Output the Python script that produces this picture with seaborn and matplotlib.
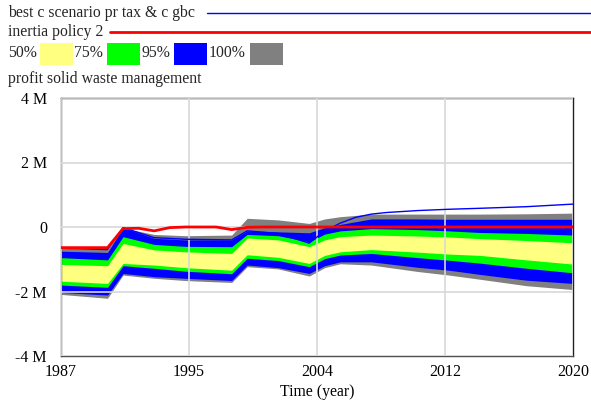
import numpy as np
import matplotlib.pyplot as plt
import pandas as pd
import seaborn as sns
from matplotlib.lines import Line2D
from matplotlib.patches import Rectangle

# Confidence band bounds (millions)
years = [1987, 1990, 1991, 1993, 1995, 1998, 1999, 2001, 2003, 2004, 2005, 2007, 2010, 2012, 2014, 2017, 2020]
p100_hi = [-0.66, -0.70, -0.03, -0.23, -0.27, -0.25, 0.27, 0.22, 0.11, 0.25, 0.32, 0.40, 0.40, 0.40, 0.40, 0.41, 0.43]
p95_hi = [-0.75, -0.79, -0.02, -0.35, -0.40, -0.40, -0.12, -0.15, -0.18, -0.02, 0.08, 0.25, 0.25, 0.24, 0.24, 0.24, 0.24]
p75_hi = [-0.95, -1.02, -0.30, -0.54, -0.60, -0.61, -0.23, -0.27, -0.46, -0.22, -0.12, -0.05, -0.08, -0.12, -0.17, -0.20, -0.25]
p50_hi = [-1.16, -1.20, -0.51, -0.71, -0.77, -0.82, -0.34, -0.40, -0.61, -0.40, -0.30, -0.25, -0.28, -0.31, -0.36, -0.42, -0.49]
p50_lo = [-1.68, -1.75, -1.13, -1.18, -1.26, -1.34, -0.86, -0.94, -1.13, -0.88, -0.77, -0.70, -0.78, -0.84, -0.88, -1.02, -1.15]
p75_lo = [-1.80, -1.87, -1.20, -1.28, -1.37, -1.45, -0.97, -1.04, -1.23, -0.98, -0.87, -0.82, -0.95, -1.03, -1.12, -1.28, -1.42]
p95_lo = [-2.03, -2.11, -1.44, -1.54, -1.59, -1.66, -1.18, -1.26, -1.44, -1.20, -1.08, -1.08, -1.25, -1.34, -1.47, -1.65, -1.75]
p100_lo = [-2.09, -2.21, -1.49, -1.59, -1.66, -1.72, -1.23, -1.30, -1.52, -1.26, -1.14, -1.18, -1.38, -1.49, -1.62, -1.82, -1.94]

# Scenario lines
best_years = [1987, 1990, 1991, 1993, 1995, 1998, 1999, 2001, 2003, 2004, 2005, 2006, 2007, 2008, 2010, 2012, 2014, 2017, 2020]
best_vals = [-0.66, -0.70, -0.02, -0.33, -0.38, -0.40, -0.12, -0.20, -0.50, -0.12, 0.12, 0.30, 0.40, 0.45, 0.51, 0.55, 0.58, 0.63, 0.71]
inertia_years = [1987, 1990, 1991, 1992, 1993, 1994, 1995, 1997, 1998, 1999, 2000, 2020]
inertia_vals = [-0.64, -0.64, -0.05, -0.04, -0.12, -0.02, 0.0, 0.0, -0.08, -0.01, 0.0, 0.0]

band_labels = ['50%', '75%', '95%', '100%']
band_colors = ['#ffff80', '#00ff00', '#0000ff', '#808080']

x_ticks = [1987, 1995.25, 2003.5, 2011.75, 2020]
x_labels = ['1987', '1995', '2004', '2012', '2020']
y_ticks = [-4, -2, 0, 2, 4]
y_labels = ['-4 M', '-2 M', '0', '2 M', '4 M']

sns.set_theme(style="whitegrid")
plt.rcParams['font.family'] = ['Liberation Serif', 'DejaVu Serif']

fig = plt.figure(figsize=(5.91, 4.01), dpi=100)
ax = fig.add_axes([61 / 591, 1 - 356 / 401, 512 / 591, 258 / 401])

# bands from outermost to innermost
bands = [(p100_lo, p100_hi), (p95_lo, p95_hi), (p75_lo, p75_hi), (p50_lo, p50_hi)]
for (lo, hi), col in zip(bands, band_colors[::-1]):
    ax.fill_between(years, lo, hi, color=col, lw=0, zorder=1)

lines = pd.DataFrame({'year': best_years, 'value': best_vals})
sns.lineplot(data=lines, x='year', y='value', color='#0000ff', lw=1, ax=ax, zorder=3)
inertia = pd.DataFrame({'year': inertia_years, 'value': inertia_vals})
sns.lineplot(data=inertia, x='year', y='value', color='#ff0000', lw=2, ax=ax, zorder=4)

ax.set_xlim(1987, 2020)
ax.set_ylim(-4, 4)
ax.set_xticks(x_ticks)
ax.set_xticklabels(x_labels)
ax.set_yticks(y_ticks)
ax.set_yticklabels(y_labels)
ax.set_axisbelow(False)
ax.grid(True, color='#d8d8d8', lw=1.2, zorder=2.5)
ax.tick_params(axis='y', pad=10, labelsize=11.5, colors='black', length=0)
ax.tick_params(axis='x', pad=5.5, labelsize=11.5, colors='black', length=0)
ax.set_xlabel('Time (year)', fontsize=11.3, labelpad=3, color='black')
ax.set_ylabel('')
for side in ['top', 'right']:
    ax.spines[side].set_color('#202020')
for side in ['left', 'bottom']:
    ax.spines[side].set_color('#505050')
for sp in ax.spines.values():
    sp.set_linewidth(1)
    sp.set_visible(True)

# header legend drawn in figure pixels
W, H = 591, 401
def fy(py):
    return 1 - py / H

fs = 11.3
fig.text(8 / W, fy(13), 'best c scenario pr tax & c gbc', fontsize=fs, va='center', ha='left')
fig.add_artist(Line2D([207 / W, 1], [fy(13), fy(13)], color='#0000ff', lw=1))
fig.text(8 / W, fy(32), 'inertia policy 2', fontsize=fs, va='center', ha='left')
fig.add_artist(Line2D([110 / W, 1], [fy(32), fy(32)], color='#ff0000', lw=2))

text_x = [8, 74, 141, 209]
box_x = [40, 107, 174, 250]
for lab, col, tx, bx in zip(band_labels, band_colors, text_x, box_x):
    fig.text(tx / W, fy(53), lab, fontsize=fs, va='center', ha='left')
    fig.add_artist(Rectangle((bx / W, fy(65)), 33 / W, 22 / H, color=col, lw=0))

fig.text(8 / W, fy(79), 'profit solid waste management', fontsize=fs, va='center', ha='left')

fig.savefig('out.png', dpi=100)
